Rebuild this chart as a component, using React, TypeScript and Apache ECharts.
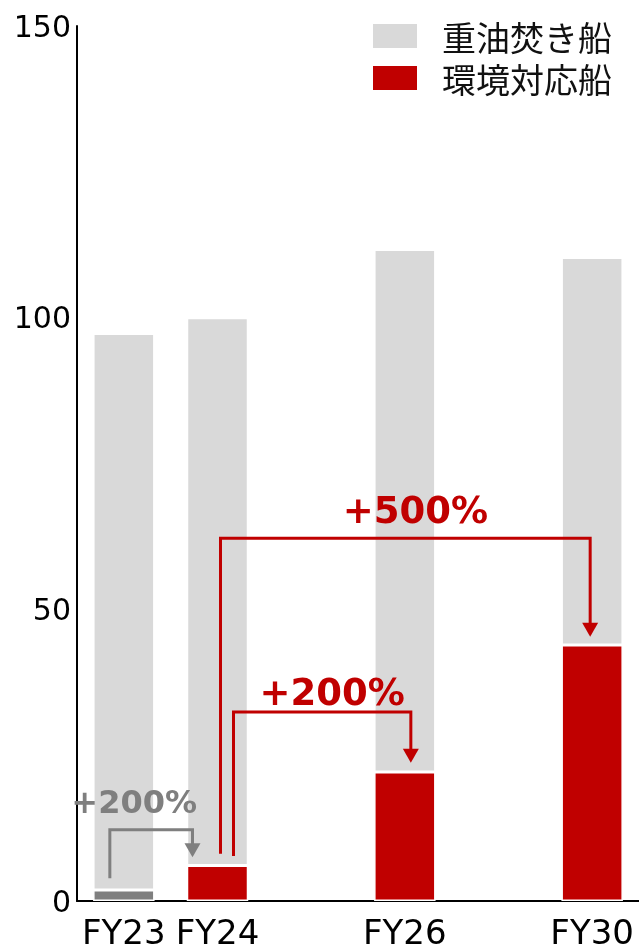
import React, { useEffect, useRef } from "react";
import * as echarts from "echarts";

const categories = ["FY23", "FY24", "", "FY26", "", "FY30"];
const envShips = [1.9, 6.1, null, 22.1, null, 43.9];
const heavyOilShips = [95.4, 93.9, null, 89.6, null, 66.4];
const yTicks = { min: 0, max: 150, interval: 50 };

// Growth annotations (values in axis units)
const arrowFrom = [0, 1, 1];
const arrowTo = [1, 3, 5];
const arrowLabels = ["+200%", "+200%", "+500%"];
const arrowStart = [3.9, 7.7, 8.1];
const arrowLevel = [12.2, 32.4, 62.2];
const arrowEnd = [7.5, 23.7, 45.3];

// styles for annotations (pixel offsets)
const arrowStyles = [
  { color: "#7f7f7f", fromDx: -14, toDx: -25, labelDx: -17, labelDy: 28, fontSize: 32 },
  { color: "#c00000", fromDx: 16, toDx: 6, labelDx: 10, labelDy: 20, fontSize: 37 },
  { color: "#c00000", fromDx: 3, toDx: -2, labelDx: 10, labelDy: 28, fontSize: 37 },
];

const RED = "#c00000";
const LIGHT = "#d9d9d9";
const DARK_GRAY = "#7f7f7f";

export default function App() {
  const ref = useRef<HTMLDivElement>(null);
  useEffect(() => {
    if (!ref.current) return;
    const chart = echarts.init(ref.current, null, { renderer: "svg" });
    const arrowData = arrowFrom.map((f, i) => [f, arrowStart[i], arrowLevel[i], arrowTo[i], arrowEnd[i], i]);
    chart.setOption({
      animation: false,
      grid: { left: 77, right: 0, top: 26, bottom: 51, containLabel: false },
      legend: {
        orient: "vertical",
        right: 22,
        top: 14,
        itemWidth: 46,
        itemHeight: 26,
        itemGap: 8,
        icon: "rect",
        data: ["重油焚き船", "環境対応船"],
        textStyle: {
          fontFamily: "Noto Sans CJK JP",
          fontSize: 34,
          lineHeight: 34,
          color: "#111",
          padding: [0, 0, 0, 19],
        },
      },
      xAxis: {
        type: "category",
        data: categories,
        axisTick: { show: false },
        axisLine: { lineStyle: { color: "#000", width: 2 } },
        axisLabel: {
          interval: 0,
          hideOverlap: false,
          fontFamily: "DejaVu Sans",
          fontSize: 34,
          lineHeight: 30,
          color: "#000",
          margin: 16,
        },
      },
      yAxis: {
        type: "value",
        min: yTicks.min,
        max: yTicks.max,
        interval: yTicks.interval,
        splitLine: { show: false },
        axisTick: { show: false },
        axisLine: { show: true, lineStyle: { color: "#000", width: 2 } },
        axisLabel: {
          fontFamily: "DejaVu Sans",
          fontSize: 30,
          color: "#000",
          margin: 6,
        },
      },
      series: [
        {
          name: "環境対応船",
          type: "bar",
          stack: "total",
          barWidth: 61.5,
          itemStyle: { color: RED, borderColor: "#fff", borderWidth: 1.5 },
          data: envShips.map((v, i) =>
            i === 0 ? { value: v, itemStyle: { color: DARK_GRAY } } : v
          ),
        },
        {
          name: "重油焚き船",
          type: "bar",
          stack: "total",
          barWidth: 61.5,
          itemStyle: { color: LIGHT, borderColor: "#fff", borderWidth: 1.5 },
          data: heavyOilShips,
        },
        {
          type: "custom",
          clip: false,
          z: 10,
          silent: true,
          encode: { x: 0, y: 1 },
          data: arrowData,
          renderItem: (params: any, api: any) => {
            const idx = api.value(5);
            const st = arrowStyles[idx];
            const p0 = api.coord([api.value(0), api.value(1)]);
            const pL = api.coord([api.value(0), api.value(2)]);
            const pE = api.coord([api.value(3), api.value(4)]);
            const x0 = p0[0] + st.fromDx;
            const x1 = pE[0] + st.toDx;
            const yL = pL[1];
            const tipY = pE[1];
            const headH = 14;
            const headW = 8;
            return {
              type: "group",
              children: [
                {
                  type: "polyline",
                  shape: {
                    points: [
                      [x0, p0[1]],
                      [x0, yL],
                      [x1, yL],
                      [x1, tipY - headH + 1],
                    ],
                  },
                  style: { stroke: st.color, lineWidth: 3, fill: null },
                },
                {
                  type: "polygon",
                  shape: {
                    points: [
                      [x1 - headW, tipY - headH],
                      [x1 + headW, tipY - headH],
                      [x1, tipY],
                    ],
                  },
                  style: { fill: st.color },
                },
                {
                  type: "text",
                  style: {
                    x: (x0 + x1) / 2 + st.labelDx,
                    y: yL - st.labelDy,
                    text: arrowLabels[idx],
                    fill: st.color,
                    font: `bold ${st.fontSize}px "DejaVu Sans"`,
                    textAlign: "center",
                    textVerticalAlign: "middle",
                  },
                },
              ],
            };
          },
        },
      ],
    });
    return () => chart.dispose();
  }, []);
  return (
    <div
      ref={ref}
      style={{ position: "fixed", left: 0, top: 0, width: 639, height: 952 }}
    />
  );
}
